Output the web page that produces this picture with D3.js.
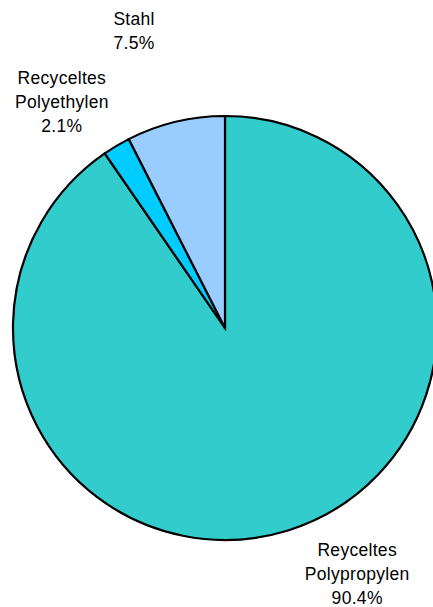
<!DOCTYPE html>
<html>
<head>
<meta charset="utf-8">
<script src="https://cdn.jsdelivr.net/npm/d3@7"></script>
<style>
  body { margin: 0; background: #fff; }
  svg { display: block; }
  text { font-family: "Liberation Sans", Arial, sans-serif; font-size: 17.5px; letter-spacing: 0.3px; fill: #000; }
</style>
</head>
<body>
<div id="chart"></div>
<script>
  // values, clockwise from 12 o'clock
  var categories = ["Reyceltes Polypropylen", "Recyceltes Polyethylen", "Stahl"];
  var labelLines = [["Reyceltes", "Polypropylen"], ["Recyceltes", "Polyethylen"], ["Stahl"]];
  var shares = [90.4, 2.1, 7.5];
  var colors = ["#33CCCC", "#00CCFF", "#99CCFF"];

  var W = 433, H = 607;
  var cx = 225, cy = 328, R = 212;
  // label placement: [angle offset in deg, radius] relative to slice middle
  var labelPos = [[-11, 279], [-5, 279], [-3.5, 311]];

  var svg = d3.select("#chart").append("svg")
      .attr("width", W).attr("height", H);
  var g = svg.append("g").attr("transform", "translate(" + cx + "," + cy + ")");

  var data = categories.map(function(c, i) {
    return {name: c, value: shares[i], color: colors[i], lines: labelLines[i], lp: labelPos[i]};
  });

  var pie = d3.pie().sort(null).value(function(d) { return d.value; });
  var arc = d3.arc().innerRadius(0).outerRadius(R);
  var arcs = pie(data);

  g.selectAll("path.slice")
    .data(arcs)
    .enter().append("path")
      .attr("class", "slice")
      .attr("d", arc)
      .attr("fill", function(d) { return d.data.color; })
      .attr("stroke", "#000")
      .attr("stroke-width", 2.2)
      .attr("stroke-linejoin", "miter");

  var lab = g.selectAll("g.lab")
    .data(arcs)
    .enter().append("g")
      .attr("class", "lab")
      .attr("transform", function(d) {
        var mid = (d.startAngle + d.endAngle) / 2 + d.data.lp[0] * Math.PI / 180;
        var r = d.data.lp[1];
        return "translate(" + (Math.sin(mid) * r) + "," + (-Math.cos(mid) * r) + ")";
      });

  lab.each(function(d) {
    var lines = d.data.lines.concat([d3.format(".1f")(d.data.value) + "%"]);
    var n = lines.length, lh = 24;
    d3.select(this).selectAll("text")
      .data(lines)
      .enter().append("text")
        .attr("text-anchor", "middle")
        .attr("y", function(t, i) { return (i - (n - 1) / 2) * lh + 6; })
        .text(function(t) { return t; });
  });
</script>
</body>
</html>
